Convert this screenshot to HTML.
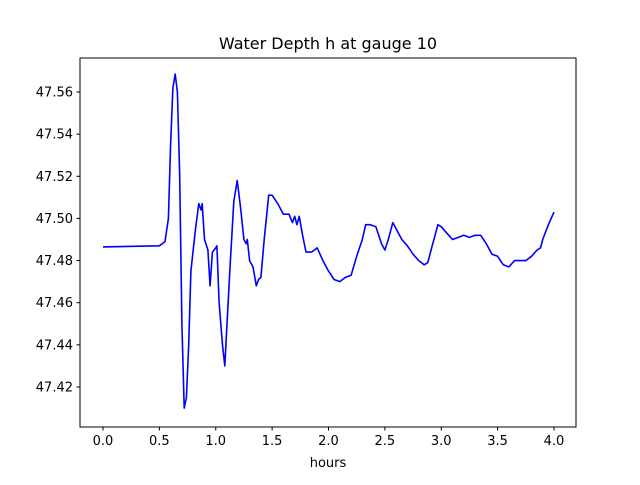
<!DOCTYPE html>
<html><head><meta charset="utf-8"><style>
body{margin:0;background:#fff;}
svg text{font-family:"DejaVu Sans","Liberation Sans",sans-serif;fill:#000;}
</style></head><body>
<svg id="chart" width="640" height="480" xmlns="http://www.w3.org/2000/svg">
<rect width="640" height="480" fill="#fff"/>
<text x="328" y="49" font-size="16" text-anchor="middle">Water Depth h at gauge 10</text>
<text x="328" y="467" font-size="13" text-anchor="middle">hours</text>
<g id="xt"></g><g id="yt"></g>
<polyline id="line" fill="none" stroke="#0000ff" stroke-width="1.6" stroke-linejoin="round"/>
<rect x="80" y="58" width="496" height="369" fill="none" stroke="#000" stroke-width="1"/>
</svg>
<script>
const hours=[0,0.5,0.55,0.58,0.6,0.62,0.64,0.66,0.68,0.7,0.72,0.74,0.76,0.78,0.82,0.85,0.87,0.88,0.9,0.93,0.95,0.97,1.0,1.01,1.03,1.06,1.08,1.1,1.13,1.16,1.19,1.22,1.25,1.27,1.28,1.3,1.33,1.36,1.38,1.4,1.43,1.47,1.5,1.55,1.6,1.65,1.68,1.7,1.72,1.74,1.77,1.8,1.85,1.9,1.95,2.0,2.05,2.1,2.15,2.2,2.25,2.3,2.33,2.37,2.42,2.47,2.5,2.53,2.57,2.6,2.65,2.7,2.75,2.8,2.85,2.88,2.92,2.97,3.0,3.05,3.1,3.15,3.2,3.25,3.3,3.35,3.4,3.45,3.5,3.55,3.6,3.65,3.7,3.75,3.8,3.85,3.88,3.9,3.95,4.0];
const depth=[47.4865,47.487,47.489,47.50,47.535,47.562,47.5685,47.56,47.52,47.45,47.41,47.415,47.44,47.475,47.495,47.507,47.504,47.507,47.49,47.485,47.468,47.484,47.486,47.487,47.46,47.44,47.43,47.45,47.48,47.508,47.518,47.505,47.49,47.488,47.49,47.48,47.477,47.468,47.471,47.472,47.49,47.511,47.511,47.507,47.502,47.502,47.498,47.501,47.497,47.501,47.492,47.484,47.484,47.486,47.48,47.475,47.471,47.47,47.472,47.473,47.482,47.49,47.497,47.497,47.496,47.488,47.485,47.49,47.498,47.495,47.49,47.487,47.483,47.48,47.478,47.479,47.487,47.497,47.496,47.493,47.49,47.491,47.492,47.491,47.492,47.492,47.488,47.483,47.482,47.478,47.477,47.48,47.48,47.48,47.482,47.485,47.486,47.49,47.497,47.503];
const xTicks=["0.0","0.5","1.0","1.5","2.0","2.5","3.0","3.5","4.0"];
const yTicks=["47.42","47.44","47.46","47.48","47.50","47.52","47.54","47.56"];
const xs=v=>103+v*112.75;
const ys=v=>92+(47.56-v)*2107;
const NS="http://www.w3.org/2000/svg";
const xt=document.getElementById('xt'),yt=document.getElementById('yt');
xTicks.forEach(t=>{const x=xs(parseFloat(t));
const l=document.createElementNS(NS,'line');


l.setAttribute('x1',x);l.setAttribute('x2',x);l.setAttribute('y1',427);l.setAttribute('y2',430.5);l.setAttribute('stroke','#000');xt.appendChild(l);
const s=document.createElementNS(NS,'text');


s.setAttribute('x',x);s.setAttribute('y',445);s.setAttribute('font-size','13');s.setAttribute('text-anchor','middle');s.textContent=t;xt.appendChild(s);});
yTicks.forEach(t=>{const y=ys(parseFloat(t));
const l=document.createElementNS(NS,'line');


l.setAttribute('x1',76.5);l.setAttribute('x2',80);l.setAttribute('y1',y);l.setAttribute('y2',y);l.setAttribute('stroke','#000');yt.appendChild(l);
const s=document.createElementNS(NS,'text');


s.setAttribute('x',73);s.setAttribute('y',y+4.5);s.setAttribute('font-size','13');s.setAttribute('text-anchor','end');s.textContent=t;yt.appendChild(s);});
document.getElementById('line').setAttribute('points',hours.map((h,i)=>xs(h).toFixed(1)+','+ys(depth[i]).toFixed(1)).join(' '));
</script>
</body></html>
